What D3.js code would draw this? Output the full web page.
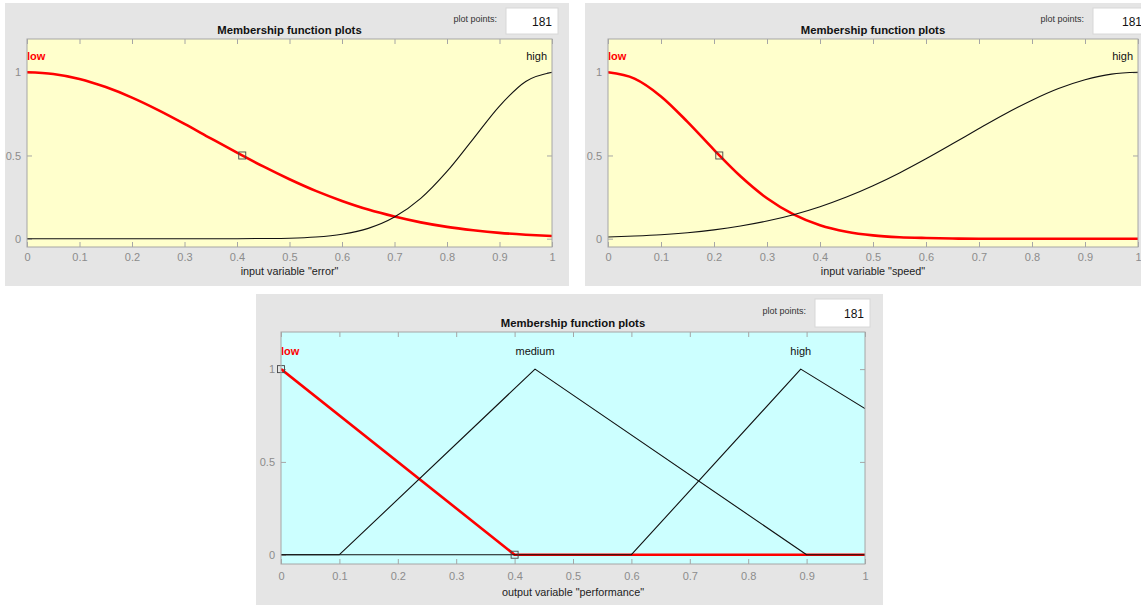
<!DOCTYPE html>
<html>
<head>
<meta charset="utf-8">
<script src="https://cdn.jsdelivr.net/npm/d3@7"></script>
<style>
  body { margin: 0; background: #ffffff; }
  svg { display: block; font-family: "Liberation Sans", Arial, Helvetica, sans-serif; }
</style>
</head>
<body>
<svg id="chart" width="1141" height="605"></svg>
<script>
// ---- data -------------------------------------------------------------
const xTicks = [0, 0.1, 0.2, 0.3, 0.4, 0.5, 0.6, 0.7, 0.8, 0.9, 1];
const yTicks = [0, 0.5, 1];
const pointCount = 181;

// sample positions for the smooth (gaussian-shaped) membership curves
const gridX = [0, 0.05, 0.1, 0.15, 0.2, 0.25, 0.3, 0.35, 0.4, 0.45, 0.5,
               0.55, 0.6, 0.65, 0.7, 0.75, 0.8, 0.85, 0.9, 0.95, 1];

// input variable "error"
const errorLow  = [1.000, 0.990, 0.960, 0.911, 0.848, 0.773, 0.690, 0.603, 0.517, 0.434, 0.357,
                   0.287, 0.227, 0.175, 0.133, 0.098, 0.071, 0.051, 0.035, 0.024, 0.016];
const errorHigh = [0.000, 0.000, 0.000, 0.000, 0.000, 0.000, 0.000, 0.000, 0.000, 0.001, 0.003,
                   0.010, 0.027, 0.062, 0.130, 0.242, 0.404, 0.600, 0.797, 0.945, 1.000];
const errorMarkers = [[0.41, 0.5]];

// input variable "speed"
const speedLow  = [1.000, 0.962, 0.855, 0.702, 0.534, 0.375, 0.243, 0.146, 0.081, 0.042, 0.020,
                   0.009, 0.004, 0.001, 0.000, 0.000, 0.000, 0.000, 0.000, 0.000, 0.000];
const speedHigh = [0.010, 0.016, 0.024, 0.036, 0.053, 0.076, 0.106, 0.144, 0.192, 0.250, 0.318,
                   0.395, 0.480, 0.570, 0.662, 0.751, 0.832, 0.902, 0.955, 0.989, 1.000];
const speedMarkers = [[0.21, 0.5]];

// output variable "performance" (triangular sets, vertex lists)
const perfLowX    = [0, 0.4, 1];
const perfLowY    = [1, 0, 0];
const perfMediumX = [0, 0.1, 0.435, 0.9, 1];
const perfMediumY = [0, 0, 1, 0, 0];
const perfHighX   = [0, 0.6, 0.89, 1];
const perfHighY   = [0, 0, 1, 0.787];
const perfMarkers = [[0, 1], [0.4, 0]];

// ---- drawing ----------------------------------------------------------
const svg = d3.select("#chart");
const zip = (xs, ys) => xs.map((x, i) => [x, ys[i]]);

const panels = [
  {
    frame: {x: 5, y: 3, w: 564, h: 283},
    plot:  {x: 27, y: 39, w: 525, h: 208},
    box:   {x: 506, y: 8, w: 52, h: 26},
    bg: "#ffffcc", tickGap: 6, titleGap: 28,
    xTitle: 'input variable "error"',
    sets: [
      {name: "low",  pts: zip(gridX, errorLow),  peak: 0, selected: true, smooth: true},
      {name: "high", pts: zip(gridX, errorHigh), peak: 1, smooth: true}
    ],
    markers: errorMarkers
  },
  {
    frame: {x: 585, y: 3, w: 570, h: 283},
    plot:  {x: 608, y: 39, w: 530, h: 208},
    box:   {x: 1093, y: 8, w: 55, h: 26},
    bg: "#ffffcc", tickGap: 6, titleGap: 28,
    xTitle: 'input variable "speed"',
    sets: [
      {name: "low",  pts: zip(gridX, speedLow),  peak: 0, selected: true, smooth: true},
      {name: "high", pts: zip(gridX, speedHigh), peak: 1, smooth: true}
    ],
    markers: speedMarkers
  },
  {
    frame: {x: 256, y: 294, w: 627, h: 320},
    plot:  {x: 281, y: 332, w: 584, h: 232},
    box:   {x: 815, y: 299, w: 55, h: 28},
    bg: "#ccffff", tickGap: 8, titleGap: 32,
    xTitle: 'output variable "performance"',
    sets: [
      {name: "low",    pts: zip(perfLowX, perfLowY),       peak: 0, selected: true},
      {name: "medium", pts: zip(perfMediumX, perfMediumY), peak: 0.435},
      {name: "high",   pts: zip(perfHighX, perfHighY),     peak: 0.89}
    ],
    markers: perfMarkers
  }
];

const axisGray = "#a6a6a6";
const labelGray = "#8c8c8c";

panels.forEach((p, idx) => {
  const g = svg.append("g");
  const P = p.plot;

  // grey panel
  g.append("rect")
    .attr("x", p.frame.x).attr("y", p.frame.y)
    .attr("width", p.frame.w).attr("height", p.frame.h)
    .attr("fill", "#e5e5e5");

  // "plot points" field
  g.append("text")
    .attr("x", p.box.x - 9).attr("y", p.box.y + p.box.h / 2 + 1)
    .attr("text-anchor", "end")
    .attr("font-size", 9).attr("fill", "#333")
    .text("plot points:");
  g.append("rect")
    .attr("x", p.box.x).attr("y", p.box.y)
    .attr("width", p.box.w).attr("height", p.box.h)
    .attr("fill", "#ffffff").attr("stroke", "#d8d8d8").attr("stroke-width", 1);
  g.append("text")
    .attr("x", p.box.x + p.box.w - 6).attr("y", p.box.y + p.box.h / 2 + 4.5)
    .attr("text-anchor", "end")
    .attr("font-size", 12).attr("fill", "#111")
    .text(pointCount);

  // scales
  const x = d3.scaleLinear().domain([0, 1]).range([P.x, P.x + P.w]);
  const y = d3.scaleLinear().domain([-0.05, 1.2]).range([P.y + P.h, P.y]);

  // plot background
  g.append("rect")
    .attr("x", P.x).attr("y", P.y).attr("width", P.w).attr("height", P.h)
    .attr("fill", p.bg);

  // title
  g.append("text")
    .attr("x", P.x + P.w / 2).attr("y", P.y - 5)
    .attr("text-anchor", "middle")
    .attr("font-size", 11.3).attr("font-weight", "bold").attr("fill", "#111")
    .text("Membership function plots");

  // axes (ticks point inward, box drawn separately)
  const styleAxis = sel => {
    sel.select(".domain").remove();
    sel.selectAll(".tick line").attr("stroke", axisGray);
    sel.selectAll(".tick text").attr("fill", labelGray).attr("font-size", 11)
      .attr("font-family", null);
  };
  g.append("g").attr("transform", `translate(0,${P.y + P.h})`)
    .call(d3.axisBottom(x).tickValues(xTicks).tickSize(-5).tickPadding(p.tickGap)
      .tickFormat(d3.format("~g")))
    .call(styleAxis);
  g.append("g").attr("transform", `translate(0,${P.y})`)
    .call(d3.axisTop(x).tickValues(xTicks).tickSize(-5).tickFormat(""))
    .call(styleAxis);
  g.append("g").attr("transform", `translate(${P.x},0)`)
    .call(d3.axisLeft(y).tickValues(yTicks).tickSize(-5).tickPadding(6)
      .tickFormat(d3.format("~g")))
    .call(styleAxis);
  g.append("g").attr("transform", `translate(${P.x + P.w},0)`)
    .call(d3.axisRight(y).tickValues(yTicks).tickSize(-5).tickFormat(""))
    .call(styleAxis);

  // x-axis title
  g.append("text")
    .attr("x", P.x + P.w / 2).attr("y", P.y + P.h + p.titleGap)
    .attr("text-anchor", "middle")
    .attr("font-size", 10.8).attr("fill", "#222")
    .text(p.xTitle);

  // membership curves: selected set first, others on top
  const clipId = "clip" + idx;
  g.append("clipPath").attr("id", clipId).append("rect")
    .attr("x", P.x).attr("y", P.y).attr("width", P.w).attr("height", P.h);
  const curves = g.append("g").attr("clip-path", `url(#${clipId})`);
  const ordered = p.sets.filter(s => s.selected).concat(p.sets.filter(s => !s.selected));
  ordered.forEach(s => {
    const line = d3.line().x(d => x(d[0])).y(d => y(d[1]))
      .curve(s.smooth ? d3.curveMonotoneX : d3.curveLinear);
    curves.append("path")
      .attr("d", line(s.pts))
      .attr("fill", "none")
      .attr("stroke", s.selected ? "#ff0000" : "#111111")
      .attr("stroke-width", s.selected ? 2.6 : 1.1)
      .attr("stroke-linejoin", "round");
  });

  // parameter markers on the selected set
  g.selectAll(".marker").data(p.markers).join("rect")
    .attr("x", d => x(d[0]) - 3.5).attr("y", d => y(d[1]) - 3.5)
    .attr("width", 7).attr("height", 7)
    .attr("fill", "none").attr("stroke", "#444").attr("stroke-width", 0.9);

  // set names above their peaks, kept inside the plot
  p.sets.forEach(s => {
    const t = g.append("text")
      .attr("y", y(1.1) + 4)
      .attr("font-size", 11)
      .attr("font-weight", s.selected ? "bold" : "normal")
      .attr("fill", s.selected ? "#ff0000" : "#111")
      .text(s.name);
    const w = t.node().getComputedTextLength();
    let left = x(s.peak) - w / 2;
    left = Math.max(P.x, Math.min(P.x + P.w - 5 - w, left));
    t.attr("x", left);
  });

  // plot box
  g.append("rect")
    .attr("x", P.x).attr("y", P.y).attr("width", P.w).attr("height", P.h)
    .attr("fill", "none").attr("stroke", axisGray).attr("stroke-width", 1);
});
</script>
</body>
</html>
